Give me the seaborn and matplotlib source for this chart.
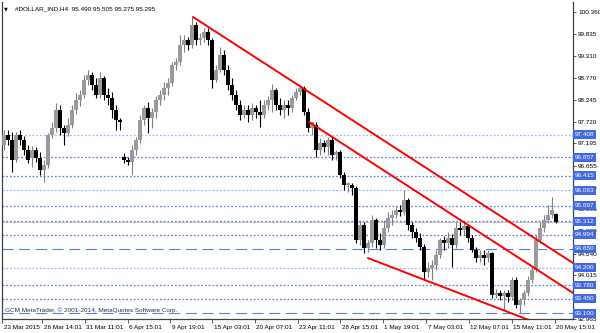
import numpy as np
import pandas as pd
import matplotlib
matplotlib.use("Agg")
import matplotlib.pyplot as plt
import matplotlib.transforms as mtransforms
import seaborn as sns

# ---------------- data ----------------
opens = [97.16, 97.40, 97.28, 96.79, 97.40, 97.28, 97.04, 96.84, 97.04, 96.84,
         96.55, 96.67, 97.40, 97.57, 98.00, 97.57, 97.44, 97.64, 98.00, 98.24,
         98.36, 98.72, 98.84, 98.60, 98.36, 98.77, 98.36, 98.29, 98.00, 97.76,
         96.87, 96.79, 96.75, 97.04, 97.28, 97.76, 98.05, 97.81, 97.95, 98.24,
         98.36, 98.53, 98.65, 99.08, 99.16, 99.56, 99.69, 99.56, 100.05, 99.69,
         99.73, 99.88, 99.69, 98.72, 98.96, 99.32, 98.96, 98.60, 98.36, 98.12,
         97.88, 98.00, 97.88, 98.05, 97.95, 97.88, 98.12, 98.24, 98.48, 98.12,
         98.00, 98.12, 98.05, 98.29, 98.43, 98.53, 97.95, 97.57, 97.64, 97.04,
         97.20, 97.11, 97.28, 96.91, 96.99, 96.43, 96.19, 96.19, 96.12, 94.87,
         95.23, 94.67, 94.79, 95.35, 94.87, 94.75, 95.16, 95.40, 95.47, 95.59,
         95.54, 95.83, 95.23, 95.06, 94.91, 94.70, 94.10, 94.19, 94.26, 94.50,
         94.87, 94.79, 94.91, 94.75, 95.16, 95.11, 95.20, 94.91, 94.62, 94.43,
         94.50, 94.43, 94.55, 93.54, 93.59, 93.52, 93.59, 93.49, 93.90, 93.30,
         93.42, 93.59, 93.90, 94.14, 94.87, 95.16, 95.35, 95.47, 95.490]
closes = [97.40, 97.28, 96.79, 97.40, 97.28, 97.04, 96.79, 97.04, 96.84, 96.55,
          96.67, 97.40, 97.57, 98.00, 97.57, 97.44, 97.64, 98.00, 98.24, 98.36,
          98.72, 98.84, 98.60, 98.36, 98.77, 98.36, 98.29, 98.00, 97.76, 97.71,
          96.79, 96.75, 97.04, 97.28, 97.76, 98.05, 97.81, 97.95, 98.24, 98.36,
          98.53, 98.65, 99.08, 99.16, 99.56, 99.69, 99.56, 100.05, 99.69, 99.73,
          99.88, 99.69, 98.72, 98.96, 99.32, 98.96, 98.60, 98.36, 98.12, 97.88,
          98.00, 97.88, 98.05, 97.95, 97.88, 98.12, 98.24, 98.48, 98.12, 98.00,
          98.12, 98.05, 98.29, 98.43, 98.53, 97.95, 97.57, 97.71, 97.04, 97.20,
          97.11, 97.28, 96.91, 96.99, 96.43, 96.19, 96.24, 96.12, 94.87, 95.23,
          94.67, 94.79, 95.35, 94.87, 94.75, 95.16, 95.40, 95.47, 95.59, 95.54,
          95.83, 95.23, 95.06, 94.91, 94.70, 94.10, 94.19, 94.26, 94.50, 94.87,
          94.79, 94.91, 94.75, 95.16, 95.11, 95.20, 94.91, 94.62, 94.43, 94.50,
          94.43, 94.55, 93.54, 93.59, 93.52, 93.59, 93.49, 93.90, 93.30, 93.42,
          93.59, 93.90, 94.14, 94.87, 95.16, 95.35, 95.47, 95.59, 95.295]
highs = [97.52, 97.52, 97.47, 97.47, 97.52, 97.37, 97.16, 97.13, 97.11, 96.99,
         96.79, 97.44, 97.71, 98.17, 98.12, 97.64, 97.81, 98.12, 98.41, 98.48,
         98.84, 98.96, 98.91, 98.77, 98.91, 98.82, 98.53, 98.43, 98.12, 97.81,
         96.96, 96.87, 97.16, 97.35, 97.88, 98.12, 98.19, 98.05, 98.34, 98.48,
         98.67, 98.77, 99.16, 99.25, 99.81, 99.81, 99.76, 100.24, 100.12, 99.85,
         99.97, 99.97, 99.73, 99.08, 99.52, 99.44, 99.08, 98.77, 98.48, 98.24,
         98.12, 98.12, 98.17, 98.12, 98.24, 98.24, 98.34, 98.63, 98.53, 98.29,
         98.24, 98.24, 98.36, 98.53, 98.60, 98.58, 98.05, 97.71, 97.71, 97.32,
         97.28, 97.35, 97.35, 97.04, 97.04, 96.50, 96.26, 96.24, 96.17, 95.35,
         95.30, 94.87, 95.47, 95.40, 95.04, 95.35, 95.54, 95.59, 95.69, 95.71,
         96.07, 95.88, 95.30, 95.16, 95.04, 94.77, 94.34, 94.38, 94.62, 94.91,
         94.96, 95.06, 95.01, 95.30, 95.30, 95.30, 95.25, 94.99, 94.70, 94.62,
         94.62, 94.62, 94.58, 93.69, 93.66, 93.66, 93.66, 93.97, 93.97, 93.47,
         93.66, 94.00, 94.24, 94.99, 95.30, 95.47, 95.71, 95.90, 95.505]
lows = [97.04, 97.16, 96.50, 96.75, 97.16, 96.91, 96.72, 96.63, 96.75, 96.43,
        96.26, 96.60, 97.32, 97.47, 97.40, 97.16, 97.37, 97.57, 97.90, 98.10,
        98.29, 98.60, 98.48, 98.29, 98.29, 98.24, 98.12, 97.81, 97.52, 97.52,
        96.72, 96.67, 96.43, 96.91, 97.20, 97.64, 97.44, 97.57, 97.81, 98.12,
        98.24, 98.36, 98.58, 98.96, 99.08, 99.40, 99.44, 99.49, 99.56, 99.56,
        99.64, 99.56, 98.53, 98.67, 98.91, 98.84, 98.48, 98.24, 98.00, 97.76,
        97.81, 97.71, 97.76, 97.81, 97.59, 97.81, 98.00, 97.95, 98.00, 97.88,
        97.81, 97.88, 97.95, 98.24, 98.36, 97.88, 97.47, 97.40, 96.87, 96.91,
        96.99, 96.91, 96.79, 96.79, 96.36, 96.07, 96.02, 95.95, 94.79, 94.75,
        94.55, 94.58, 94.70, 94.67, 94.62, 94.67, 95.06, 95.23, 95.40, 95.44,
        95.47, 95.11, 94.91, 94.82, 94.62, 93.90, 93.97, 93.90, 94.14, 94.43,
        94.62, 94.67, 94.22, 94.67, 94.99, 94.99, 94.82, 94.58, 94.34, 94.34,
        94.26, 94.34, 93.47, 93.47, 93.42, 93.18, 93.37, 93.42, 93.23, 93.11,
        93.30, 93.52, 93.83, 94.10, 94.79, 95.06, 95.28, 95.40, 95.275]

tick_pos = [-0.5, 9.6, 20.25, 30.9, 41.5, 52.1, 62.75, 73.4, 84.0, 94.75,
            105.5, 116.25, 126.9, 137.75]
tick_labels = ["23 Mar 2015", "26 Mar 14:01", "31 Mar 11:01", "6 Apr 15:01",
               "9 Apr 19:01", "15 Apr 03:01", "20 Apr 07:01", "23 Apr 11:01",
               "28 Apr 15:01", "1 May 19:01", "7 May 03:01", "12 May 07:01",
               "15 May 11:01", "20 May 15:01"]

price_ticks = [100.360, 99.835, 99.310, 98.770, 98.245, 97.720, 97.195, 96.655,
               96.130, 95.605, 95.080, 94.540, 94.015, 93.490, 92.965]

dotted_levels = [97.408, 96.857, 96.415, 96.063, 95.697, 95.312, 94.994,
                 94.200, 93.780, 93.450]
light_levels = [97.408, 96.063, 94.200]
dashed_levels = [94.650, 93.100]

trend_x1 = [47.25, 76.25, 91.0]
trend_y1 = [100.24, 97.71, 94.43]
trend_x2 = [142.25, 142.25, 129.0]
trend_y2 = [94.31, 93.59, 93.02]

symbol = "#DOLLAR_IND,H4"
last_ohlc = ["95.490", "95.505", "95.275", "95.295"]
bid = 95.295

# ---------------- plot ----------------
sns.set_theme(style="white")
plt.rcParams['font.family'] = ['Liberation Sans', 'DejaVu Sans']
FS = 4.6

df = pd.DataFrame({"open": opens, "high": highs, "low": lows, "close": closes})
df["idx"] = np.arange(len(df))
df["up"] = df["close"] >= df["open"]

fig = plt.figure(figsize=(6.0, 3.33), dpi=100)
ax = fig.add_axes([2 / 600, 14 / 333, 571 / 600, 317 / 333])
ax.set_facecolor("white")

XMIN, XMAX = -0.5, 142.25
YMIN, YMAX = 92.962, 100.601
ax.set_xlim(XMIN, XMAX)
ax.set_ylim(YMIN, YMAX)

# horizontal levels
for lv in dotted_levels:
    col = "#9fb5f0" if lv in light_levels else "#5b7fe0"
    ax.axhline(lv, color=col, lw=0.9, dashes=(1.4, 1.6), zorder=1)
for lv in dashed_levels:
    ax.axhline(lv, color="#5b7fe0", lw=0.8, dashes=(10, 5), zorder=1)
ax.axhline(bid, color="#c8c8c8", lw=0.7, zorder=0.5)

# candles
up = df[df["up"]]
dn = df[~df["up"]]
ax.vlines(up["idx"], up["low"], up["high"], color="#808080", lw=0.8, zorder=2)
ax.vlines(dn["idx"], dn["low"], dn["high"], color="black", lw=0.8, zorder=2)
hu = (up["close"] - up["open"]).abs().clip(lower=0.025)
hd = (dn["close"] - dn["open"]).abs().clip(lower=0.025)
ax.bar(up["idx"], hu, bottom=np.minimum(up["open"], up["close"]), width=0.85,
       color="#9a9a9a", linewidth=0, zorder=3)
ax.bar(dn["idx"], hd, bottom=np.minimum(dn["open"], dn["close"]), width=0.85,
       color="black", linewidth=0, zorder=3)

# trend lines (rays extended to the right edge)
for xa, ya, xb, yb in zip(trend_x1, trend_y1, trend_x2, trend_y2):
    slope = (yb - ya) / (xb - xa)
    xe = XMAX
    ye = ya + slope * (xe - xa)
    sns.lineplot(x=[xa, xe], y=[ya, ye], ax=ax, color="#ff0000", lw=1.4,
                 zorder=4)

# spines
ax.spines["top"].set_visible(False)
for s in ["left", "bottom", "right"]:
    ax.spines[s].set_visible(True)
    ax.spines[s].set_color("#404040")
    ax.spines[s].set_linewidth(0.9)

# y axis on right
ax.yaxis.tick_right()
ax.set_yticks(price_ticks)
ax.set_yticklabels([f"{p:.3f}" for p in price_ticks])
ax.tick_params(axis="y", which="both", right=True, left=False, length=2.5,
               width=0.6, color="#404040", pad=1.2, labelsize=FS,
               labelcolor="black")

# x axis
ax.set_xticks(tick_pos)
ax.set_xticklabels(tick_labels)
ax.tick_params(axis="x", which="both", bottom=True, length=3, width=0.6,
               color="#404040", pad=1.0, labelsize=FS, labelcolor="black")
offset = mtransforms.ScaledTranslation(1.5 / 100, 0, fig.dpi_scale_trans)
for lab in ax.get_xticklabels():
    lab.set_horizontalalignment("left")
    lab.set_transform(lab.get_transform() + offset)

ax.set_xlabel("")
ax.set_ylabel("")
ax.grid(False)

# boxed level labels
trans = mtransforms.blended_transform_factory(ax.transAxes, ax.transData)
for lv in dotted_levels + dashed_levels:
    ax.text(1.003, lv, f"{lv:.3f}", transform=trans, ha="left", va="center",
            fontsize=FS, color="white", zorder=10, clip_on=False,
            bbox=dict(boxstyle="square,pad=0.3", facecolor="#4169e1",
                      edgecolor="none"))

# header and copyright
ax.text(0.004, 0.985, "\u25bc", transform=ax.transAxes, ha="left", va="top",
        fontsize=3.6, color="black", family="DejaVu Sans")
ax.text(0.022, 0.988, f"{symbol}  " + " ".join(last_ohlc),
        transform=ax.transAxes, ha="left", va="top", fontsize=FS, color="black")
ax.text(0.006, 0.02, "GCM MetaTrader, \u00a9 2001-2014, MetaQuotes Software Corp.",
        transform=ax.transAxes, ha="left", va="bottom", fontsize=FS,
        color="#303030")

leg = ax.get_legend()
if leg is not None:
    leg.remove()

fig.savefig("out.png", dpi=100)
